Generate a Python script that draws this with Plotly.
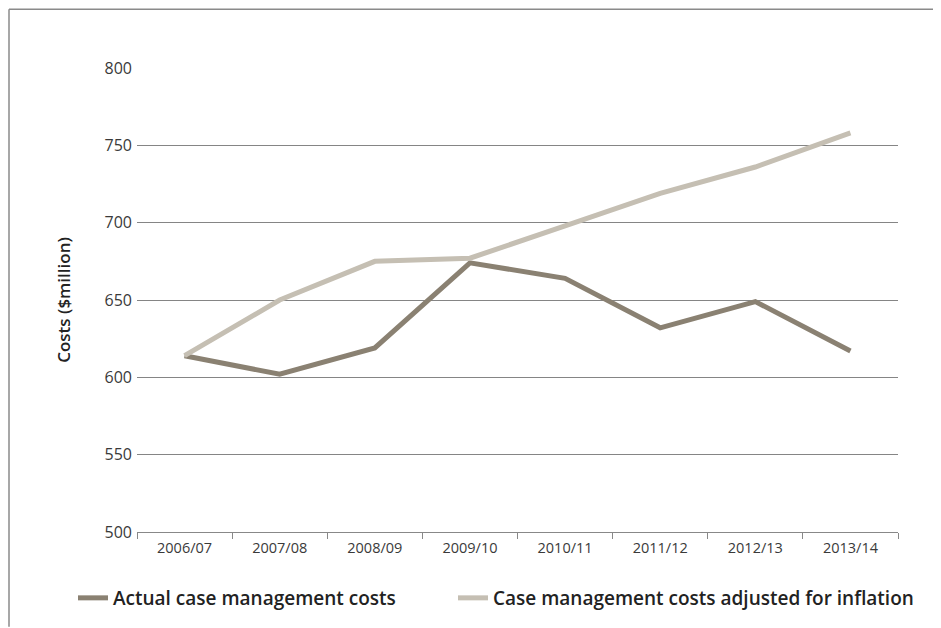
import plotly.graph_objects as go

years = ["2006/07", "2007/08", "2008/09", "2009/10", "2010/11", "2011/12", "2012/13", "2013/14"]
actual = [614, 602, 619, 674, 664, 632, 649, 617]
adjusted = [614, 650, 675, 677, 698, 719, 736, 758]
y_ticks = [500, 550, 600, 650, 700, 750, 800]

L, R, T, B = 129, 43, 60, 95
W, H = 933, 620
PW, PH = W - L - R, H - T - B

fig = go.Figure()
fig.add_trace(go.Scatter(x=years, y=actual, mode="lines", name="Actual case management costs",
                         line=dict(color="#8a8172", width=5), legend="legend"))
fig.add_trace(go.Scatter(x=years, y=adjusted, mode="lines", name="Case management costs adjusted for inflation",
                         line=dict(color="#c5bfb3", width=5), legend="legend2"))

legend_font = dict(size=19, color="#222222", family="Open Sans", weight=600)
leg_y = -(598 - 533) / PH

fig.update_layout(
    width=W, height=H,
    margin=dict(l=L, r=R, t=T, b=B),
    paper_bgcolor="white", plot_bgcolor="white",
    font=dict(family="Open Sans", color="#333333"),
    showlegend=True,
    legend=dict(orientation="h", x=(73 - 137) / PW, y=leg_y, xanchor="left", yanchor="middle",
                font=legend_font, bgcolor="rgba(0,0,0,0)"),
    legend2=dict(orientation="h", x=(453 - 137) / PW, y=leg_y, xanchor="left", yanchor="middle",
                 font=legend_font, bgcolor="rgba(0,0,0,0)"),
    xaxis=dict(type="category", showgrid=False, showline=True, linecolor="#888888", linewidth=1,
               ticks="outside", tickson="boundaries", ticklen=6, tickcolor="#888888",
               ticklabelstandoff=3,
               tickfont=dict(size=14.5, color="#3a3a3a"), range=[-0.5, 7.5], zeroline=False),
    yaxis=dict(range=[500, 800], tickvals=y_ticks, showgrid=True, gridcolor="#858585", gridwidth=1,
               showline=False, zeroline=False, ticks="", ticklabelstandoff=4,
               tickfont=dict(size=16, color="#3a3a3a"),
               title=dict(text="Costs ($million)", font=dict(size=17, color="#222222", weight=600), standoff=29)),
)

# partial frame (top and left edges of the figure box)
top_y = 1 + (T - 1) / PH
left_x = -(L - 1) / PW
fig.add_shape(type="line", xref="paper", yref="paper", x0=left_x, x1=1 + R / PW, y0=top_y, y1=top_y,
              line=dict(color="#8a8a8a", width=1.5))
fig.add_shape(type="line", xref="paper", yref="paper", x0=left_x, x1=left_x, y0=top_y, y1=-B / PH,
              line=dict(color="#8a8a8a", width=1.5))

fig.write_html("out.html")
